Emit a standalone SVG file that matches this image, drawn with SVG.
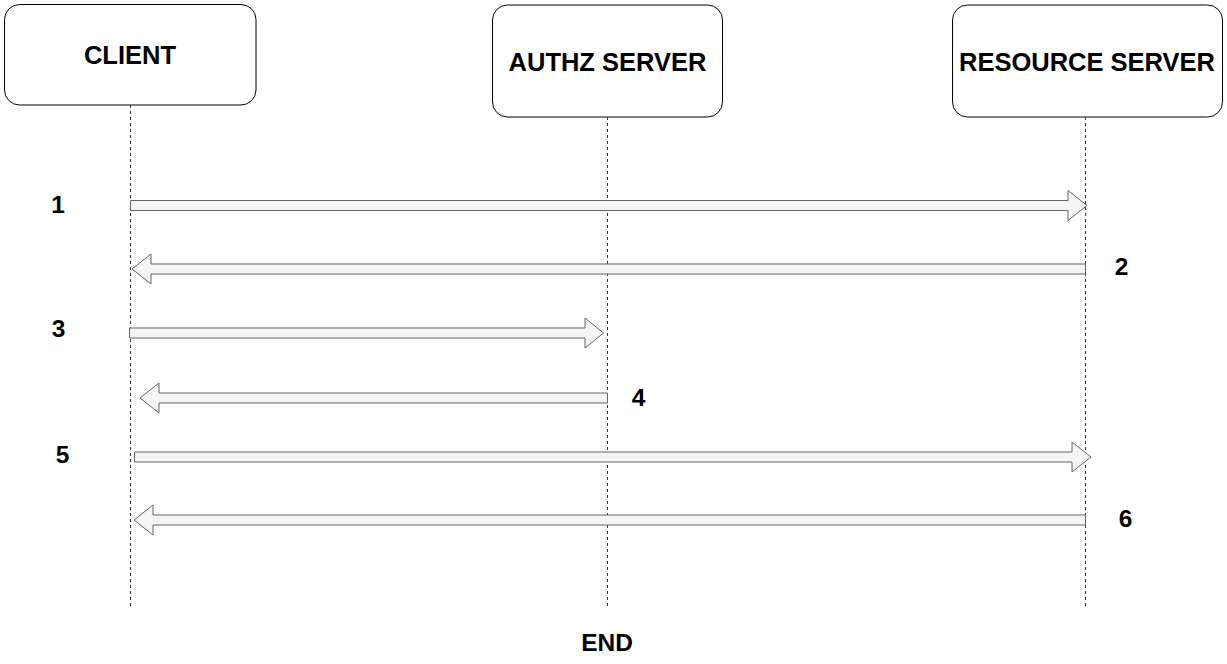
<svg xmlns="http://www.w3.org/2000/svg" width="1227" height="664" viewBox="0 0 1227 664">
<style>
.box{fill:#ffffff;stroke:#000000;stroke-width:1}
.life{stroke:#333333;stroke-width:1;stroke-dasharray:3 3;fill:none}
.arr{fill:#f5f5f5;stroke:#666666;stroke-width:1}
.t{font-family:"Liberation Sans",Arial,Helvetica,sans-serif;font-weight:bold;font-size:24.5px;fill:#000000;text-anchor:middle}
.h{font-size:25.5px}
</style>
<rect width="1227" height="664" fill="#ffffff"/>
<g id="client">
<rect class="box" x="4.5" y="4.5" width="251.5" height="100.5" rx="15" ry="15"/>
<text class="t h" x="130" y="63.5">CLIENT</text>
</g>
<g id="authz">
<rect class="box" x="492.5" y="5" width="230" height="112" rx="15" ry="15"/>
<text class="t h" x="607.5" y="70.5">AUTHZ SERVER</text>
</g>
<g id="resource">
<rect class="box" x="952.5" y="5" width="270" height="112" rx="15" ry="15"/>
<text class="t h" x="1087" y="70.5">RESOURCE SERVER</text>
</g>
<g id="lifelines">
<line class="life" x1="130.5" y1="105" x2="130.5" y2="608"/>
<line class="life" x1="607.5" y1="117" x2="607.5" y2="608"/>
<line class="life" x1="1085.5" y1="117" x2="1085.5" y2="608"/>
</g>
<g id="connectors">
<path class="arr" d="M130.5 200.5 H1068 V190.5 L1087 205.5 L1068 220.5 V210.5 H130.5 Z"/>
<path class="arr" d="M1085.5 264 H151 V254 L132 269 L151 284 V274 H1085.5 Z"/>
<path class="arr" d="M129.5 328 H585 V318 L603.5 333 L585 348 V338 H129.5 Z"/>
<path class="arr" d="M607.5 393 H159 V383 L140 398 L159 413 V403 H607.5 Z"/>
<path class="arr" d="M134.5 452 H1072 V442 L1091 457 L1072 472 V462 H134.5 Z"/>
<path class="arr" d="M1085.5 515 H153 V505 L134 520 L153 535 V525 H1085.5 Z"/>
</g>
<g id="labels">
<text class="t" x="58" y="213">1</text>
<text class="t" x="1121.5" y="275">2</text>
<text class="t" x="58.5" y="336.5">3</text>
<text class="t" x="638.5" y="406">4</text>
<text class="t" x="62.5" y="463">5</text>
<text class="t" x="1125.5" y="526.5">6</text>
<text class="t" x="607" y="650.5">END</text>
</g>
</svg>
